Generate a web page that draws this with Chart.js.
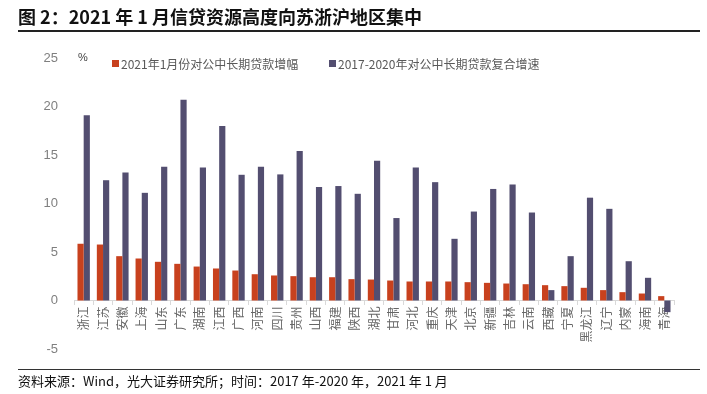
<!DOCTYPE html>
<html>
<head>
<meta charset="utf-8">
<script src="https://cdn.jsdelivr.net/npm/chart.js@4"></script>
<style>
  html, body { margin: 0; padding: 0; background: #fff; }
  #page { position: relative; width: 707px; height: 394px; overflow: hidden; }
  #title {
    position: absolute; left: 18px; top: 3px;
    font: bold 18px "Noto Sans CJK SC", sans-serif; color: #111;
    white-space: nowrap;
  }
  #topline { position: absolute; left: 18px; width: 682px; top: 30px; height: 2px; background: #222; }
  #bottomline { position: absolute; left: 18px; width: 682px; top: 369px; height: 1px; background: #333; }
  #source {
    position: absolute; left: 18px; top: 371px;
    font: 13px "Noto Sans CJK SC", sans-serif; color: #111; white-space: nowrap;
  }
  #wrap { position: absolute; left: 0; top: 0; width: 707px; height: 394px; }
</style>
</head>
<body>
<div id="page">
  <div id="wrap"><canvas id="chart"></canvas></div>
  <div id="title">图 2：2021 年 1 月信贷资源高度向苏浙沪地区集中</div>
  <div id="topline"></div>
  <div id="bottomline"></div>
  <div id="source">资料来源：Wind，光大证券研究所；时间：2017 年-2020 年，2021 年 1 月</div>
</div>
<script>
const provinces = ["浙江", "江苏", "安徽", "上海", "山东", "广东", "湖南", "江西", "广西", "河南", "四川",
  "贵州", "山西", "福建", "陕西", "湖北", "甘肃", "河北", "重庆", "天津", "北京", "新疆", "吉林",
  "云南", "西藏", "宁夏", "黑龙江", "辽宁", "内蒙", "海南", "青海"];

const jan2021Growth = [5.85, 5.77, 4.57, 4.33, 3.99, 3.78, 3.5, 3.3, 3.09, 2.71, 2.58,
  2.51, 2.4, 2.4, 2.2, 2.16, 2.06, 1.96, 1.96, 1.96, 1.89, 1.82, 1.75,
  1.68, 1.58, 1.48, 1.31, 1.07, 0.86, 0.72, 0.45];

const cagr2017to2020 = [19.1, 12.4, 13.2, 11.1, 13.8, 20.7, 13.7, 18.0, 12.96, 13.8, 13.0,
  15.4, 11.7, 11.8, 11.0, 14.4, 8.5, 13.7, 12.2, 6.36, 9.17, 11.5, 11.96,
  9.07, 1.07, 4.57, 10.6, 9.45, 4.05, 2.34, -1.2];

const seriesNames = ["2021年1月份对公中长期贷款增幅", "2017-2020年对公中长期贷款复合增速"];
const seriesColors = ["#c8411e", "#534e70"];
const yTicks = { min: -5, max: 25, step: 5 };

// legend and unit drawn inside the plot area, like the original
const topLegend = {
  id: "topLegend",
  afterDraw(chart) {
    const ctx = chart.ctx;
    ctx.save();
    ctx.fillStyle = "#444";
    ctx.font = "11px 'Liberation Sans', sans-serif";
    ctx.textBaseline = "middle";
    ctx.fillText("%", 78, 58);

    ctx.font = "12px 'Noto Sans CJK SC', sans-serif";
    const starts = [112, 329];
    chart.data.datasets.forEach((ds, i) => {
      const x = starts[i];
      ctx.fillStyle = ds.backgroundColor;
      ctx.fillRect(x, 60, 7, 7);
      ctx.fillStyle = "#595959";
      ctx.fillText(ds.label, x + 9, 64);
    });
    ctx.restore();
  }
};

new Chart(document.getElementById("chart"), {
  type: "bar",
  data: {
    labels: provinces,
    datasets: [
      { label: seriesNames[0], data: jan2021Growth, backgroundColor: seriesColors[0] },
      { label: seriesNames[1], data: cagr2017to2020, backgroundColor: seriesColors[1] }
    ]
  },
  options: {
    animation: false,
    responsive: true,
    maintainAspectRatio: false,
    categoryPercentage: 0.64,
    barPercentage: 1.0,
    layout: { padding: { top: 58, bottom: 45, right: 33, left: 0 } },
    plugins: {
      legend: { display: false },
      tooltip: { enabled: false }
    },
    scales: {
      x: {
        position: { y: 0 },
        grid: { drawOnChartArea: false, tickLength: 4, color: "#d9d9d9" },
        border: { color: "#d9d9d9" },
        ticks: {
          autoSkip: false,
          minRotation: 90,
          maxRotation: 90,
          padding: 2,
          color: "#666",
          font: { family: "'Noto Sans CJK SC', sans-serif", size: 12 }
        }
      },
      y: {
        min: yTicks.min,
        max: yTicks.max,
        grid: { display: false, drawTicks: false },
        border: { display: false },
        afterFit(scale) { scale.width = 74; },
        ticks: {
          stepSize: yTicks.step,
          padding: 16,
          color: "#7f7f7f",
          font: { family: "'Liberation Sans', sans-serif", size: 13 }
        }
      }
    }
  },
  plugins: [topLegend]
});
</script>
</body>
</html>
